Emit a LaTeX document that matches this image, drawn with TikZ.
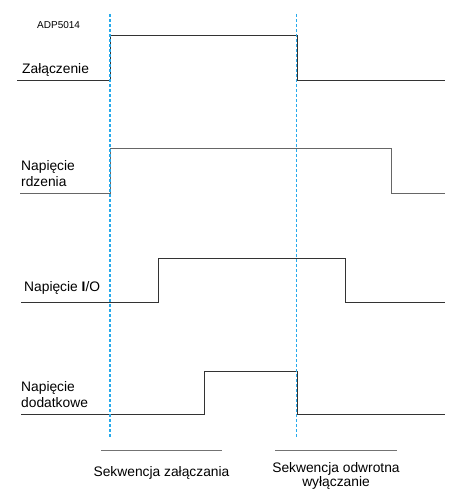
\documentclass[tikz,border=0pt]{standalone}
\usepackage{fontspec}
\setmainfont{Liberation Sans}
\begin{document}
\begin{tikzpicture}[x=1pt,y=-1pt,
  sig/.style={draw=black!80,line width=0.85pt},
  sigg/.style={draw=black!60,line width=0.95pt},
  seq/.style={draw=black!55,line width=0.8pt},
  guide/.style={draw={rgb,255:red,40;green,170;blue,235},line width=1.2pt,dash pattern=on 3pt off 2pt},
  lbl/.style={font=\fontsize{13.8}{15.5}\selectfont,anchor=base west,inner sep=0pt,align=left},
  small/.style={font=\fontsize{10}{12}\selectfont,anchor=base west,inner sep=0pt}]
\useasboundingbox (0,0) rectangle (451,492);
% signals
\draw[sig] (17,80) -- (110,80) -- (110,35) -- (297,35) -- (297,80) -- (445,80);
\draw[sigg] (20,193) -- (110,193) -- (110,148) -- (391,148) -- (391,193) -- (445,193);
\draw[sig] (21,302) -- (158,302) -- (158,258) -- (345,258) -- (345,302) -- (445,302);
\draw[sig] (21,414) -- (204,414) -- (204,371) -- (297,371) -- (297,414) -- (445,414);
% guides
\draw[guide] (110,14) -- (110,437);
\draw[guide] (296.5,14) -- (296.5,437);
% sequence bars
\draw[seq] (101,450) -- (222,450);
\draw[seq] (275,450) -- (397,450);
% labels
\node[small] (adp) at (37,29) {ADP5014};
\node[lbl] (l1) at (22,74) {Załączenie};
\node[lbl,anchor=north west] (l2) at (21,160.5) {Napięcie\\rdzenia};
\node[lbl] (l3) at (24,291) {Napięcie \textbf{I}/O};
\node[lbl,anchor=north west] (l4) at (21,381.5) {Napięcie\\dodatkowe};
\node[lbl,anchor=base] (s1) at (161.5,476) {Sekwencja załączania};
\node[lbl,anchor=north,align=center,font=\fontsize{13.8}{14}\selectfont] (s2) at (336,462) {Sekwencja odwrotna\\wyłączanie};
\end{tikzpicture}
\end{document}
